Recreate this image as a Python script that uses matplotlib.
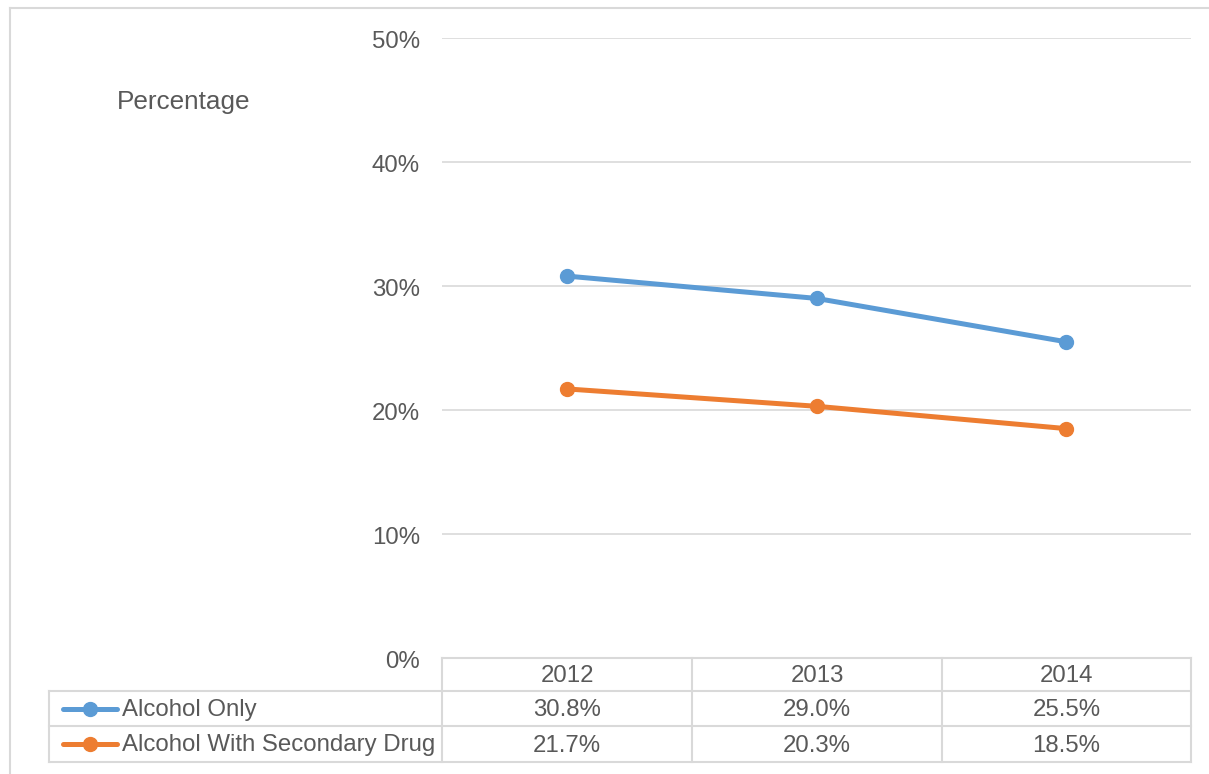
import matplotlib.pyplot as plt
from matplotlib.lines import Line2D
from matplotlib.ticker import FuncFormatter
from matplotlib.transforms import ScaledTranslation

plt.rcParams["font.family"] = ["Liberation Sans", "DejaVu Sans"]

years = ["2012", "2013", "2014"]
series_names = ["Alcohol Only", "Alcohol With Secondary Drug"]
alcohol_only = [30.8, 29.0, 25.5]
alcohol_secondary = [21.7, 20.3, 18.5]
series_values = [alcohol_only, alcohol_secondary]
colors = ["#5B9BD5", "#ED7D31"]

W, H = 1209, 774
text_col = "#595959"
grid_col = "#D9D9D9"
fs = 17.3

fig = plt.figure(figsize=(W / 100, H / 100), dpi=100)


def fx(px):
    return px / W


def fy(py):
    return 1 - py / H


# plot area (pixels): x 442..1191, y 38 (50%) .. 658 (0%)
ax = fig.add_axes([fx(442), fy(658), fx(1191) - fx(442), fy(38) - fy(658)])
x = list(range(len(years)))
for vals, c in zip(series_values, colors):
    ax.plot(x, vals, color=c, lw=3.6, marker="o", ms=10, solid_capstyle="round", zorder=3)

ax.set_xlim(-0.5, len(years) - 0.5)
ax.set_ylim(0, 50)
ax.set_yticks(range(0, 51, 10))
ax.yaxis.set_major_formatter(FuncFormatter(lambda v, p: f"{v:.0f}%"))
ax.tick_params(axis="y", length=0, pad=16, labelsize=fs, labelcolor=text_col)
# nudge tick labels down a touch
shift = ScaledTranslation(0, -2 / 100, fig.dpi_scale_trans)
for lab in ax.get_yticklabels():
    lab.set_transform(lab.get_transform() + shift)
ax.set_xticks([])
ax.grid(axis="y", color=grid_col, lw=1.2)
ax.set_axisbelow(True)
for s in ax.spines.values():
    s.set_visible(False)

fig.text(fx(117), fy(102), "Percentage", fontsize=18.8, color=text_col, ha="left", va="center")

# outer chart border (cropped on right and bottom)
fig.add_artist(Line2D([fx(10), fx(1208)], [fy(8), fy(8)], color=grid_col, lw=1.5))
fig.add_artist(Line2D([fx(10), fx(10)], [fy(8), fy(774)], color=grid_col, lw=1.5))

# data table
row_edges = [658, 691, 726, 762]
col_edges = [442, 692, 942, 1191]
left = 49


def hline(y0, x0, x1):
    fig.add_artist(Line2D([fx(x0), fx(x1)], [fy(y0), fy(y0)], color=grid_col, lw=1.5))


def vline(x0, y0, y1):
    fig.add_artist(Line2D([fx(x0), fx(x0)], [fy(y0), fy(y1)], color=grid_col, lw=1.5))


hline(row_edges[0], col_edges[0], col_edges[-1])
for y0 in row_edges[1:]:
    hline(y0, left, col_edges[-1])
vline(left, row_edges[1], row_edges[-1])
for x0 in col_edges:
    vline(x0, row_edges[0], row_edges[-1])

for i, yr in enumerate(years):
    cx = (col_edges[i] + col_edges[i + 1]) / 2
    cy = (row_edges[0] + row_edges[1]) / 2 + 2
    fig.text(fx(cx), fy(cy), yr, fontsize=fs, color=text_col, ha="center", va="center")

for r, (name, vals, c) in enumerate(zip(series_names, series_values, colors)):
    cy = (row_edges[r + 1] + row_edges[r + 2]) / 2
    fig.add_artist(Line2D([fx(63), fx(117)], [fy(cy), fy(cy)], color=c, lw=3.6,
                          solid_capstyle="round"))
    fig.add_artist(Line2D([fx(90)], [fy(cy)], color=c, marker="o", ms=10, lw=0))
    fig.text(fx(122), fy(cy + 1.5), name, fontsize=fs, color=text_col, ha="left", va="center")
    for i, v in enumerate(vals):
        cx = (col_edges[i] + col_edges[i + 1]) / 2
        fig.text(fx(cx), fy(cy + 1.5), f"{v:.1f}%", fontsize=fs, color=text_col,
                 ha="center", va="center")

fig.savefig("out.png", dpi=100, facecolor="white")
